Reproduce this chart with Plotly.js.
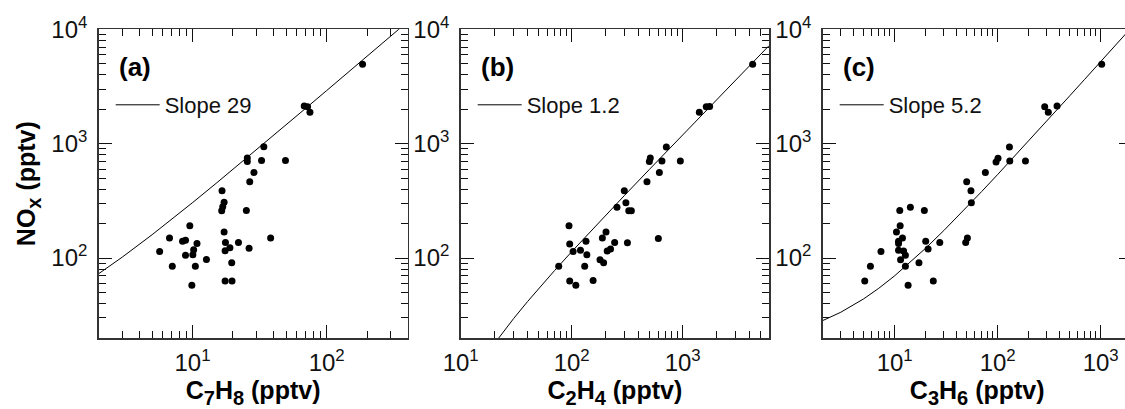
<!DOCTYPE html>
<html><head><meta charset="utf-8">
<script src="https://cdn.plot.ly/plotly-3.0.1.min.js"></script>
<style>html,body{margin:0;padding:0;overflow:hidden;background:#fff;width:1125px;height:409px}</style>
</head><body><div id="chart" style="width:1135px;height:409px"></div>
<script>
// Panel (a): C7H8 vs NOx
var xA = [185, 68, 72, 75, 34, 25.6, 25.6, 32.7, 49.3, 28.7, 26.7, 16.6, 17.2, 16.8, 16.5, 25.2, 17.2, 9.55, 6.74, 38.2, 8.43, 8.87, 10.8, 17.6, 22, 5.69, 10.2, 17.5, 19, 26.4, 8.87, 10.06, 12.7, 7.07, 10.5, 19.6, 9.89, 17.5, 19.7];
var yA = [4960, 2130, 2100, 1885, 942, 750, 697, 711, 711, 560, 464, 387, 307, 281, 259, 261, 169, 192, 150, 150, 140, 143, 134, 137, 137, 114, 118, 116, 123, 122, 106, 107, 97, 85, 85, 91, 57.8, 63, 63];
var fitAx = [2, 3, 5, 7, 10, 15, 20, 30, 50, 70, 100, 150, 200, 300, 350];
var fitAy = [73, 102, 160, 218, 305, 450, 595, 885, 1465, 2045, 2915, 4365, 5815, 8715, 10165];

// Panel (b): C2H4 vs NOx
var xB = [4275, 1413, 1633, 1750, 713, 511, 501, 651, 953, 617, 477, 298, 308, 256, 327, 345, 94.6, 204, 189, 604, 134.6, 96, 244, 318, 103, 120, 224, 209, 137, 180, 194, 76.4, 131, 96, 109, 156];
var yB = [4960, 1885, 2100, 2110, 935, 750, 697, 705, 705, 560, 464, 387, 305, 278, 259, 259, 192, 169, 150, 148, 140, 133, 137, 136, 114, 117, 120, 115, 107, 96.7, 91, 85, 85, 63, 57.8, 63.5];
var fitBx = [21.5, 25, 30, 40, 50, 70, 100, 150, 200, 300, 500, 700, 1000, 1500, 2000, 3000, 4000, 6000];
var fitBy = [19.4, 23.6, 29.6, 41.6, 53.6, 77.6, 113.6, 173.6, 233.6, 353.6, 593.6, 833.6, 1193.6, 1793.6, 2393.6, 3593.6, 4793.6, 7193.6];

// Panel (c): C3H6 vs NOx
var xC = [1023, 286, 310, 377, 130, 96.4, 100.7, 131, 186, 75.9, 50, 55, 55.5, 11.2, 14.2, 19.4, 11.3, 10.4, 11.9, 10.9, 10.9, 20, 27.4, 50.8, 48.9, 7.36, 10.9, 12.2, 21.1, 11.4, 12.7, 5.81, 12.7, 17.2, 5.12, 13.5, 23.7];
var yC = [4960, 2100, 1885, 2130, 935, 690, 745, 705, 705, 560, 464, 387, 305, 261, 278, 261, 192, 169, 150, 140, 134, 140, 137, 150, 137, 114, 117, 115, 120, 96.7, 106, 85, 85, 91, 63, 57.8, 63];
var fitCx = [2, 3, 5, 7, 10, 15, 20, 30, 50, 70, 100, 150, 200, 300, 500, 700, 1000, 1500, 1920];
var fitCy = [28.4, 33.6, 44, 54.4, 70, 96, 122, 174, 278, 382, 538, 798, 1058, 1578, 2618, 3658, 5218, 7818, 10002];

var slopeNames = ['Slope 29', 'Slope 1.2', 'Slope 5.2'];
var panelLabels = ['(a)', '(b)', '(c)'];
var SUB = function (t) { return '<sub><span style="font-size:20px">' + t + '</span></sub>'; };
var xTitles = ['C' + SUB('7') + 'H' + SUB('8') + ' (pptv)', 'C' + SUB('2') + 'H' + SUB('4') + ' (pptv)', 'C' + SUB('3') + 'H' + SUB('6') + ' (pptv)'];
var yTitle = 'NO' + SUB('x') + ' (pptv)';
var xTickVals = [[10, 100], [10, 100, 1000], [10, 100, 1000]];
var xTickText = [['10<sup>1</sup>', '10<sup>2</sup>'], ['10<sup>1</sup>', '10<sup>2</sup>', '10<sup>3</sup>'], ['10<sup>1</sup>', '10<sup>2</sup>', '10<sup>3</sup>']];
var yTickVals = [100, 1000, 10000];
var yTickText = ['10<sup>2</sup>', '10<sup>3</sup>', '10<sup>4</sup>'];

var W = 1135, H = 409;
var FONT = 'Liberation Sans, Arial, Helvetica, sans-serif';
var xDomPx = [[98.7, 407.5], [460.7, 769], [822.7, 1131.7]];
var yDomPx = [29.3, 338];
var xRanges = [[Math.log10(2), Math.log10(400)], [1, Math.log10(6000)], [Math.log10(2), Math.log10(2000)]];
var yRange = [Math.log10(20), 4];

var xs = [xA, xB, xC], ys = [yA, yB, yC];
var fxs = [fitAx, fitBx, fitCx], fys = [fitAy, fitBy, fitCy];

var data = [];
var layout = {
  width: W, height: H,
  margin: {l: 0, r: 0, t: 0, b: 0},
  paper_bgcolor: '#fff', plot_bgcolor: '#fff',
  font: {family: FONT, color: '#000'},
  showlegend: true,
  annotations: []
};

var minorCfg = {ticks: 'inside', ticklen: 7, tickwidth: 1, tickcolor: '#111', dtick: 'D1', showgrid: false};

for (var i = 0; i < 3; i++) {
  var sfx = i === 0 ? '' : String(i + 1);
  var legName = 'legend' + sfx;
  data.push({
    x: xs[i], y: ys[i], xaxis: 'x' + sfx, yaxis: 'y' + sfx,
    type: 'scatter', mode: 'markers',
    marker: {color: '#000', size: 7},
    showlegend: false, hoverinfo: 'x+y'
  });
  data.push({
    x: fxs[i], y: fys[i], xaxis: 'x' + sfx, yaxis: 'y' + sfx,
    type: 'scatter', mode: 'lines', name: slopeNames[i],
    line: {color: '#000', width: 1},
    legend: legName, showlegend: true
  });
  var yDom = [1 - yDomPx[1] / H, 1 - yDomPx[0] / H];
  var xDom = [xDomPx[i][0] / W, xDomPx[i][1] / W];
  layout['xaxis' + sfx] = {
    type: 'log', range: xRanges[i], domain: xDom, anchor: 'y' + sfx,
    tickmode: 'array', tickvals: xTickVals[i], ticktext: xTickText[i],
    ticks: 'inside', ticklen: 13, tickwidth: 1, tickcolor: '#111',
    minor: minorCfg,
    showline: true, linecolor: '#333', linewidth: 1.5, mirror: 'ticks',
    showgrid: false, zeroline: false,
    tickfont: {family: FONT, size: 24, color: '#111'},
    ticklabelstandoff: 3,
    title: {text: xTitles[i], font: {family: FONT, size: 25, color: '#000', weight: 'bold'}, standoff: 4},
    automargin: false
  };
  layout['yaxis' + sfx] = {
    type: 'log', range: yRange, domain: yDom, anchor: 'x' + sfx,
    tickmode: 'array', tickvals: yTickVals, ticktext: yTickText,
    ticks: 'inside', ticklen: 13, tickwidth: 1, tickcolor: '#111',
    minor: minorCfg,
    showline: true, linecolor: '#333', linewidth: 1.5, mirror: 'ticks',
    showgrid: false, zeroline: false,
    tickfont: {family: FONT, size: 24, color: '#111'},
    ticklabelstandoff: 5,
    automargin: false
  };
  if (i === 0) {
    layout['yaxis' + sfx].title = {text: yTitle, font: {family: FONT, size: 25, color: '#000', weight: 'bold'}, standoff: 8};
  }
  layout[legName] = {
    x: (xDomPx[i][0] + 12) / W, y: 1 - 105 / H, xanchor: 'left', yanchor: 'middle',
    xref: 'paper', yref: 'paper',
    bgcolor: 'rgba(0,0,0,0)', borderwidth: 0,
    font: {family: FONT, size: 22, color: '#111'},
    itemwidth: 44
  };
  layout.annotations.push({
    text: panelLabels[i], xref: 'x' + sfx + ' domain', yref: 'y' + sfx + ' domain',
    x: 18 / 309, y: (338 - 67) / 308.7, xanchor: 'left', yanchor: 'middle',
    showarrow: false, font: {family: FONT, size: 26, color: '#000', weight: 'bold'}
  });
}

Plotly.newPlot('chart', data, layout, {staticPlot: true});
</script></body></html>
